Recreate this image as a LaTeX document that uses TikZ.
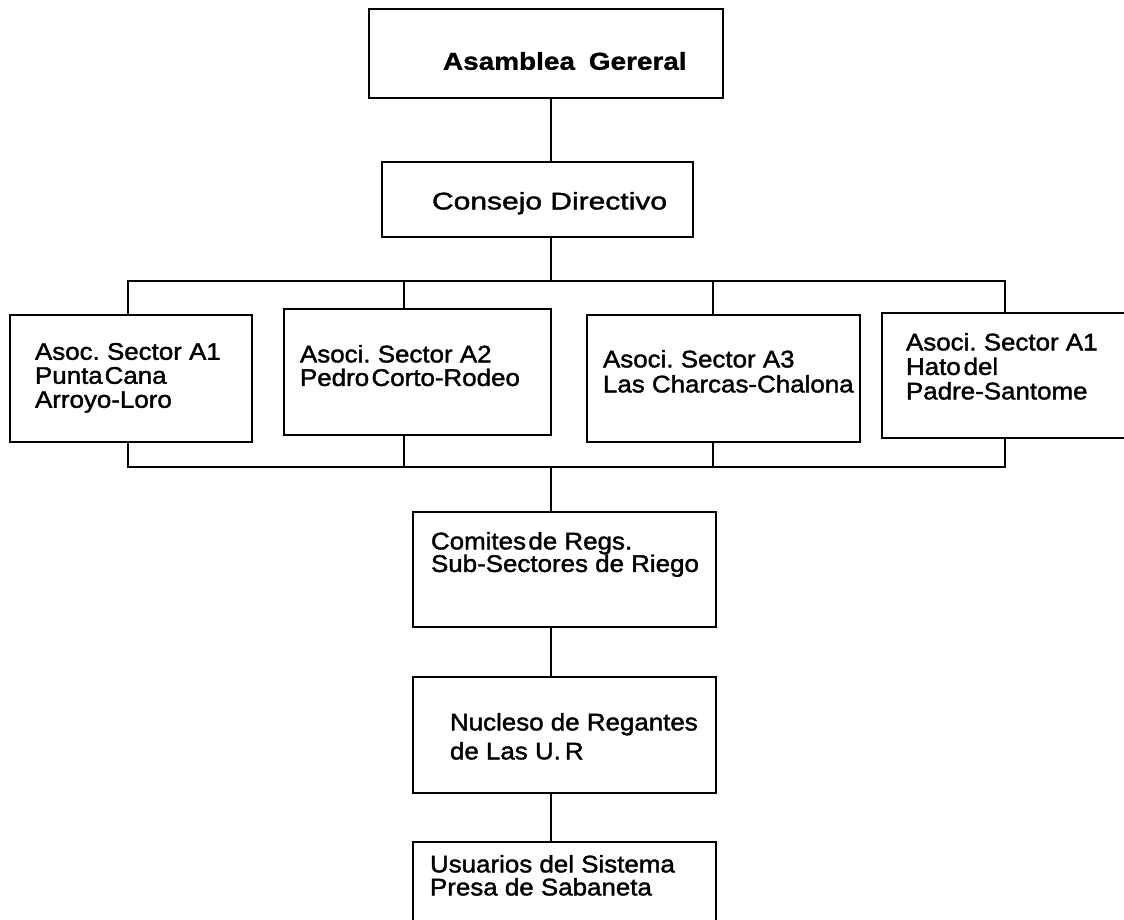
\documentclass[tikz,border=0pt]{standalone}
\usepackage{fontspec}
\setmainfont{Liberation Sans}
\newfontfamily\bodyfont[FakeStretch=1.08,FakeBold=1.6]{Liberation Sans}
\newfontfamily\titlefont[FakeStretch=1.14,FakeBold=1.2]{Liberation Sans}
\newfontfamily\consfont[FakeStretch=1.25,FakeBold=1.6]{Liberation Sans}
\tikzset{
  box/.style={draw, line width=1.9pt, rectangle, inner sep=0pt, outer sep=0pt},
  conn/.style={line width=2.8pt, line join=miter},
  lbl/.style={anchor=north west, inner sep=0pt, outer sep=0pt, align=left},
}
\newcommand{\bodysize}[1]{\bodyfont\fontsize{24}{#1}\selectfont\lineskiplimit=-100pt\relax}
\begin{document}
\begin{tikzpicture}[x=1pt,y=-1pt]
\fill[white] (0,0) rectangle (1124,919);
\useasboundingbox (0,0) rectangle (1124,919);

% boxes
\node[box, minimum width=354pt, minimum height=89pt] (asamblea) at (546,53.5) {};
\node[box, minimum width=311pt, minimum height=75pt] (consejo) at (537.5,199.5) {};
\node[box, minimum width=242pt, minimum height=127pt] (b1) at (131,378.5) {};
\node[box, minimum width=267pt, minimum height=126pt] (b2) at (417.5,372) {};
\node[box, minimum width=273pt, minimum height=127pt] (b3) at (723.5,378.5) {};
\node[box, minimum width=258pt, minimum height=125pt] (b4) at (1011,375.5) {};
\node[box, minimum width=303pt, minimum height=115pt] (comites) at (564.5,569.5) {};
\node[box, minimum width=303pt, minimum height=116pt] (nucleso) at (564.5,735) {};
\node[box, minimum width=303pt, minimum height=100pt] (usuarios) at (564.5,892) {};

% texts
\node[lbl, font=\titlefont\bfseries\fontsize{24.5}{24}\selectfont] (tasam) at (443,52) {Asamblea\hspace{0.25em} Gereral};
\node[lbl, font=\consfont\fontsize{24}{24}\selectfont] (tcons) at (432,192) {Consejo Directivo};
\node[lbl, font=\bodysize{24}] (t1) at (35,343) {Asoc.\ Sector A1\\Punta\hspace{0.08em}Cana\\Arroyo-Loro};
\node[lbl, font=\bodysize{23.5}] (t2) at (300,345) {Asoci.\ Sector A2\\Pedro\hspace{0.1em}Corto-Rodeo};
\node[lbl, font=\bodysize{25}] (t3) at (603,350) {Asoci.\ Sector A3\\Las Charcas-Chalona};
\node[lbl, font=\bodysize{24.5}] (t4) at (906,333) {Asoci.\ Sector A1\\Hato\hspace{0.12em}del\\Padre-Santome};
\node[lbl, font=\bodysize{22.5}] (tc) at (431,532) {Comites\hspace{0.1em}de Regs.\\Sub-Sectores de Riego};
\node[lbl, font=\bodysize{29}] (tn) at (450,713) {Nucleso de Regantes\\de Las U.\,R};
\node[lbl, font=\bodysize{23}] (tu) at (430,855) {Usuarios del Sistema\\Presa de Sabaneta};

% connector coordinates
\coordinate (mtop) at (551,281);
\coordinate (tbL) at (128,281);
\coordinate (tb2) at (404,281);
\coordinate (tb3) at (713,281);
\coordinate (tbR) at (1005,281);
\coordinate (mbot) at (551,467);
\coordinate (bbL) at (128,467);
\coordinate (bb2) at (404,467);
\coordinate (bb3) at (713,467);
\coordinate (bbR) at (1005,467);

% connectors
\draw[conn] (asamblea.south -| mtop) -- (consejo.north -| mtop);
\draw[conn] (consejo.south -| mtop) -- (mtop);
\draw[conn] (b1.north -| tbL) -- (tbL) -- (tbR) -- (b4.north -| tbR);
\draw[conn] (tb2) -- (b2.north -| tb2);
\draw[conn] (tb3) -- (b3.north -| tb3);
\draw[conn] (b1.south -| bbL) -- (bbL) -- (bbR) -- (b4.south -| bbR);
\draw[conn] (b2.south -| bb2) -- (bb2);
\draw[conn] (b3.south -| bb3) -- (bb3);
\draw[conn] (mbot) -- (comites.north -| mbot);
\draw[conn] (comites.south -| mbot) -- (nucleso.north -| mbot);
\draw[conn] (nucleso.south -| mbot) -- (usuarios.north -| mbot);
\end{tikzpicture}
\end{document}
